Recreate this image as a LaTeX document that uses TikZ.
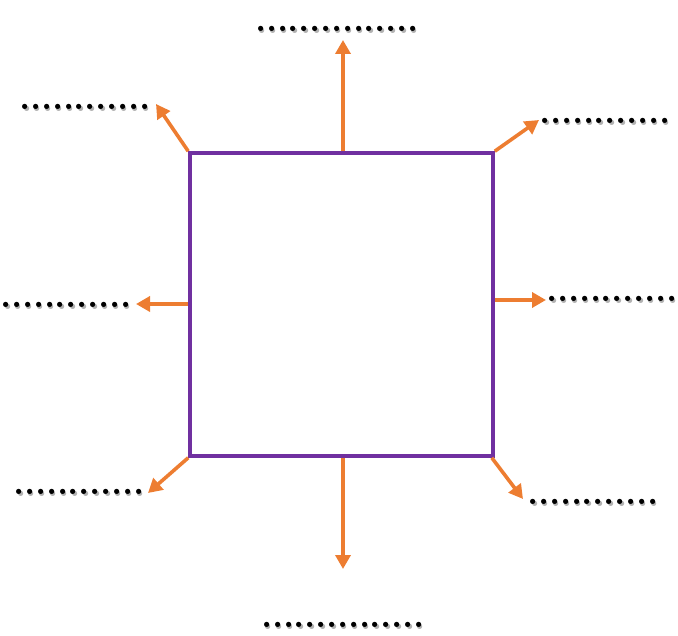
\documentclass[tikz,border=0pt]{standalone}
\usetikzlibrary{arrows.meta}
\definecolor{arrorange}{RGB}{237,125,49}
\definecolor{boxpurple}{RGB}{112,48,160}
\newcommand\dk{\kern-0.4pt}
\newcommand\dtwelve{.\dk.\dk.\dk.\dk.\dk.\dk.\dk.\dk.\dk.\dk.\dk.}
\newcommand\dfifteen{.\dk.\dk.\dk.\dk.\dk.\dk.\dk.\dk.\dk.\dk.\dk.\dk.\dk.\dk.}
\tikzset{
  dotlbl/.style={inner sep=0pt, font=\fontsize{36}{36}\selectfont\bfseries, text=black},
  dotshadow/.style={dotlbl, text=black!30},
  outarrow/.style={draw=arrorange, line width=3.6pt, -{Triangle[length=14pt,width=15pt]}},
  box/.style={draw=boxpurple, line width=3.6pt, minimum width=303pt, minimum height=303pt, inner sep=0pt}
}
\begin{document}
\begin{tikzpicture}[x=1pt,y=-1pt]
\useasboundingbox (0,0) rectangle (678,636);
\node[box] (sq) at (341.5,304.5) {};
% free ends of arrows
\coordinate (tN) at (343,40);
\coordinate (tNW) at (156,104);
\coordinate (tNE) at (539,120);
\coordinate (tW) at (136,304);
\coordinate (tE) at (546,300);
\coordinate (tSW) at (148,493);
\coordinate (tSE) at (523,499);
\coordinate (tS) at (343,569);
\draw[outarrow] (sq.north -| tN) -- (tN);
\draw[outarrow] (sq.north west) -- (tNW);
\draw[outarrow] (sq.north east) -- (tNE);
\draw[outarrow] (sq.west |- tW) -- (tW);
\draw[outarrow] (sq.east |- tE) -- (tE);
\draw[outarrow] (sq.south west) -- (tSW);
\draw[outarrow] ([xshift=-3pt]sq.south east) -- (tSE);
\draw[outarrow] (sq.south -| tS) -- (tS);
% labels with soft shadow
\node[dotshadow] (lNs) at (338.5,30.5) {\dfifteen};
\node[dotlbl] (lN) at (337,29) {\dfifteen};
\node[dotshadow] (lSs) at (344.5,626.5) {\dfifteen};
\node[dotlbl] (lS) at (343,625) {\dfifteen};
\node[dotshadow] (lNWs) at (86.5,108.5) {\dtwelve};
\node[dotlbl] (lNW) at (85,107) {\dtwelve};
\node[dotshadow] (lNEs) at (606.5,122.5) {\dtwelve};
\node[dotlbl] (lNE) at (605,121) {\dtwelve};
\node[dotshadow] (lWs) at (67.5,306.5) {\dtwelve};
\node[dotlbl] (lW) at (66,305) {\dtwelve};
\node[dotshadow] (lEs) at (613.5,300.5) {\dtwelve};
\node[dotlbl] (lE) at (612,299) {\dtwelve};
\node[dotshadow] (lSWs) at (80.5,493.5) {\dtwelve};
\node[dotlbl] (lSW) at (79,492) {\dtwelve};
\node[dotshadow] (lSEs) at (594.5,503.5) {\dtwelve};
\node[dotlbl] (lSE) at (593,502) {\dtwelve};
\end{tikzpicture}
\end{document}
